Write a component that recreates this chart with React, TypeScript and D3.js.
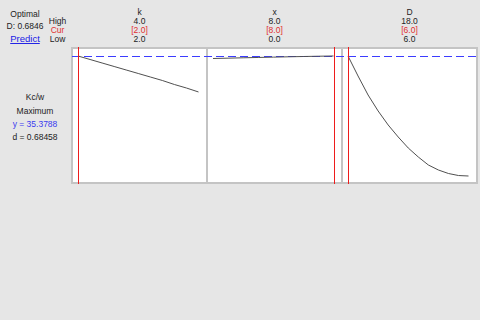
import React from "react";
import * as d3 from "d3";

// factor settings
const factorNames = ["k", "x", "D"];
const lowValues = [2.0, 0.0, 6.0];
const highValues = [4.0, 8.0, 18.0];
const curValues = [2.0, 8.0, 6.0];

// response traces (Kc/w) along each factor
const kGrid = [2.0, 2.2, 2.4, 2.6, 2.8, 3.0, 3.2, 3.4, 3.6, 3.8, 4.0];
const kResp = [35.38, 34.64, 33.9, 33.16, 32.42, 31.68, 30.94, 30.2, 29.35, 28.61, 27.77];
const xGrid = [0, 1, 2, 3, 4, 5, 6, 7, 8];
const xResp = [34.85, 34.92, 35.0, 35.07, 35.14, 35.21, 35.27, 35.33, 35.38];
const dGrid = [6, 7, 8, 9, 10, 11, 12, 13, 14, 15, 16, 17, 18];
const dResp = [35.38, 31.15, 27.13, 23.75, 20.79, 18.25, 15.92, 14.02, 12.33, 11.27, 10.53, 10.1, 10.0];

const grids = [kGrid, xGrid, dGrid];
const resps = [kResp, xResp, dResp];

const yCurrent = 35.3788;
const dValue = 0.68458;
const compositeD = 0.6846;

const App = () => {
  const width = 480;
  const height = 320;
  const top = 48;
  const bottom = 183;
  const panelLeft = 72;
  const panelW = 135;
  const font = "Liberation Sans, Arial, sans-serif";

  const y = d3.scaleLinear().domain([10, 35.3788]).range([176, 56]);
  const line = d3.line<[number, number]>();

  const panels = factorNames.map((name, i) => {
    const left = panelLeft + i * panelW;
    const x = d3
      .scaleLinear()
      .domain([lowValues[i], highValues[i]])
      .range([left + 6, left + 126.5]);
    const pts: [number, number][] = grids[i].map((g, j) => [x(g), y(resps[i][j])]);
    return { name, left, x, pts, i };
  });

  return (
    <svg
      width={width}
      height={height}
      style={{ position: "absolute", left: 0, top: 0 }}
      fontFamily={font}
      fontSize={8.5}
    >
      <rect x={0} y={0} width={width} height={height} fill="#e6e6e6" />

      {/* left info block */}
      <text x={25} y={17} textAnchor="middle" fill="#222">Optimal</text>
      <text x={25} y={29} textAnchor="middle" fill="#222">{`D: ${compositeD.toFixed(4)}`}</text>
      <text x={25} y={42} textAnchor="middle" fill="#1a1ae6" textDecoration="underline" fontSize={9.5}>
        Predict
      </text>
      <text x={57.5} y={24} textAnchor="middle" fill="#222">High</text>
      <text x={57.5} y={33} textAnchor="middle" fill="#e03030">Cur</text>
      <text x={57.5} y={42} textAnchor="middle" fill="#222">Low</text>

      <text x={35} y={100} textAnchor="middle" fill="#222">Kc/w</text>
      <text x={35} y={114} textAnchor="middle" fill="#222">Maximum</text>
      <text x={35} y={127} textAnchor="middle" fill="#3a3af0">{`y = ${yCurrent.toFixed(4)}`}</text>
      <text x={35} y={140} textAnchor="middle" fill="#222">{`d = ${dValue.toFixed(5)}`}</text>

      {panels.map((p) => (
        <g key={p.name}>
          <text x={p.left + panelW / 2} y={15} textAnchor="middle" fill="#222">{p.name}</text>
          <text x={p.left + panelW / 2} y={24} textAnchor="middle" fill="#222">
            {highValues[p.i].toFixed(1)}
          </text>
          <text x={p.left + panelW / 2} y={33} textAnchor="middle" fill="#e03030">
            {`[${curValues[p.i].toFixed(1)}]`}
          </text>
          <text x={p.left + panelW / 2} y={42} textAnchor="middle" fill="#222">
            {lowValues[p.i].toFixed(1)}
          </text>
          <rect x={p.left} y={top} width={panelW} height={bottom - top} fill="#ffffff" stroke="#c4c4c4" strokeWidth={2} />
        </g>
      ))}

      <line
        x1={panelLeft}
        x2={panelLeft + 3 * panelW}
        y1={y(yCurrent) + 0.5}
        y2={y(yCurrent) + 0.5}
        stroke="#3c3cff"
        strokeWidth={1}
        strokeDasharray="8,4"
        shapeRendering="crispEdges"
      />

      {panels.map((p) => (
        <g key={"c" + p.name}>
          <path d={line(p.pts) || ""} fill="none" stroke="#505050" strokeWidth={1} />
          <rect
            x={Math.round(p.x(curValues[p.i]))}
            y={top - 1}
            width={1}
            height={bottom - top + 2}
            fill="#ee1c1c"
          />
        </g>
      ))}
    </svg>
  );
};

export default App;
